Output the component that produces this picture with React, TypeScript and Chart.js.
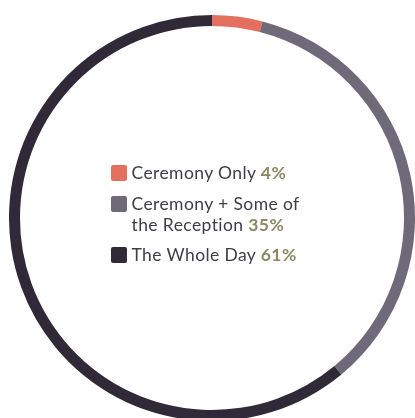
import React, { useEffect, useRef } from "react";
import { Chart, registerables } from "chart.js";

Chart.register(...registerables);

const categories = ["Ceremony Only", "Ceremony + Some of the Reception", "The Whole Day"];
const values = [4, 35, 61];
const colors = ["#e3705f", "#6e6a79", "#302a38"];

export default function App() {
  const ref = useRef<HTMLCanvasElement | null>(null);
  useEffect(() => {
    if (!ref.current) return;
    const chart = new Chart(ref.current, {
      type: "doughnut",
      data: {
        labels: categories,
        datasets: [
          {
            data: values,
            backgroundColor: colors,
            borderWidth: 0,
            hoverOffset: 0,
          },
        ],
      },
      options: {
        responsive: false,
        animation: false,
        cutout: 192,
        layout: { padding: 0 },
        plugins: { legend: { display: false }, tooltip: { enabled: false } },
      },
    });
    return () => chart.destroy();
  }, []);

  return (
    <div
      style={{
        position: "fixed",
        left: 0,
        top: 0,
        width: 415,
        height: 418,
        overflow: "hidden",
        background: "#fff",
        fontFamily: "Lato, sans-serif",
      }}
    >
      <canvas
        ref={ref}
        width={406}
        height={406}
        style={{ position: "absolute", left: 9, top: 15, width: 406, height: 406 }}
      />
      <div
        style={{
          position: "absolute",
          left: 111,
          top: 162,
          width: 200,
          fontSize: 17.5,
          letterSpacing: 0.4,
          lineHeight: "21px",
          color: "#3e3d48",
        }}
      >
        {categories.map((c, i) => (
          <div key={c} style={{ display: "flex", alignItems: "flex-start", marginBottom: 9.5 }}>
            <span
              style={{
                flex: "0 0 auto",
                width: 16,
                height: 16,
                background: colors[i],
                borderRadius: 2,
                marginTop: 3,
                marginRight: 4.5,
              }}
            />
            <span>
              {c} <b style={{ color: "#8a8a62", fontWeight: 700 }}>{values[i]}%</b>
            </span>
          </div>
        ))}
      </div>
    </div>
  );
}
